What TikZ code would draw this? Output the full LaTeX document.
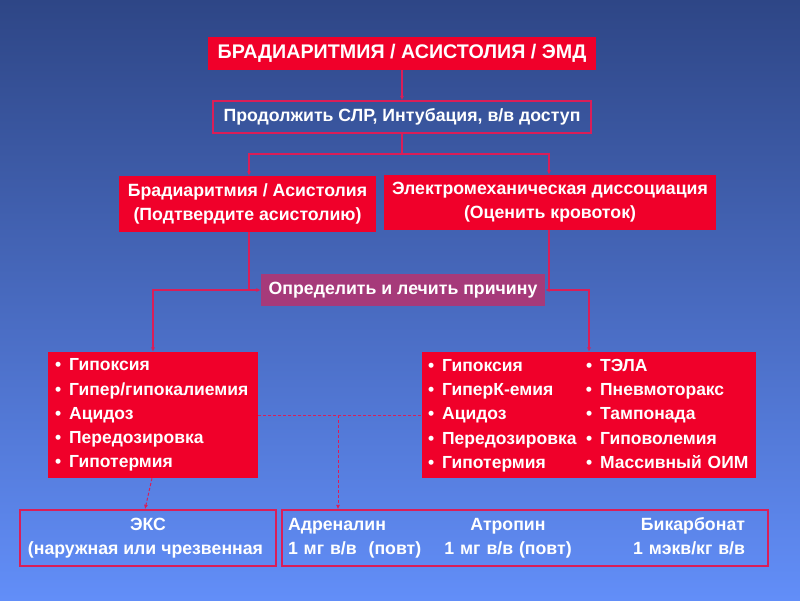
\documentclass[tikz,border=0pt]{standalone}
\usepackage{fontspec}
\setmainfont{Liberation Sans}
\usetikzlibrary{arrows.meta}
\definecolor{boxred}{RGB}{240,0,42}
\definecolor{boxpurple}{RGB}{166,58,122}
\definecolor{linecol}{RGB}{218,30,88}
\definecolor{bgtop}{RGB}{46,70,134}
\definecolor{bgbot}{RGB}{98,142,248}
\newcommand\bl{•\hspace{8pt}}
\tikzset{
  redbox/.style={fill=boxred, text=white, inner sep=0pt, align=center},
  outbox/.style={draw=linecol, line width=1.4pt, text=white, inner sep=0pt, align=center},
  conn/.style={draw=linecol, line width=1.1pt, -{Latex[length=4.5pt,width=4pt]}},
  plain/.style={draw=linecol, line width=1.1pt},
  dconn/.style={draw=linecol, line width=1pt, dash pattern=on 3pt off 2pt},
  bigtxt/.style={font=\bfseries\fontsize{17.7}{24}\selectfont},
  listtxt/.style={font=\bfseries\fontsize{17.5}{24.2}\selectfont}
}
\begin{document}
\begin{tikzpicture}[x=1pt,y=-1pt]
\shade[top color=bgtop, bottom color=bgbot] (0,0) rectangle (800,600);
\useasboundingbox (0,0) rectangle (800,600);

\node[redbox, minimum width=388pt, minimum height=33pt, font=\bfseries\fontsize{19.7}{22}\selectfont] (title) at (402,53.5) {БРАДИАРИТМИЯ / АСИСТОЛИЯ / ЭМД};
\node[outbox, minimum width=378pt, minimum height=32pt, bigtxt] (cpr) at (402,117) {Продолжить СЛР, Интубация, в/в доступ};
\node[redbox, minimum width=257pt, minimum height=56pt, bigtxt] (brady) at (247.5,204) {Брадиаритмия / Асистолия\\(Подтвердите асистолию)};
\node[redbox, minimum width=332pt, minimum height=55pt, bigtxt] (emd) at (550,202.5) {Электромеханическая диссоциация\\(Оценить кровоток)};
\node[fill=boxpurple, text=white, inner sep=0pt, minimum width=284pt, minimum height=32pt, bigtxt] (cause) at (403,290) {Определить и лечить причину};

\node[redbox, minimum width=210pt, minimum height=126pt, text width=196pt, align=left, listtxt] (left) at (153,415)
{\bl Гипоксия\\\bl Гипер/гипокалиемия\\\bl Ацидоз\\\bl Передозировка\\\bl Гипотермия};
\node[redbox, minimum width=334pt, minimum height=126pt, text width=322pt, align=left, listtxt] (right) at (589,415)
{\begin{tabular}{@{}p{158pt}@{}l@{}}
\bl Гипоксия & \bl ТЭЛА\\[0.2pt]
\bl ГиперК-емия & \bl Пневмоторакс\\[0.2pt]
\bl Ацидоз & \bl Тампонада\\[0.2pt]
\bl Передозировка & \bl Гиповолемия\\[0.2pt]
\bl Гипотермия & \bl Массивный ОИМ
\end{tabular}};

\node[outbox, minimum width=256pt, minimum height=56pt, bigtxt] (eks) at (148,538) {ЭКС\\\hspace{-5pt}(наружная или чрезвенная};
\node[outbox, minimum width=486pt, minimum height=56pt, text width=476pt, align=left, bigtxt] (drugs) at (525,538)
{\begin{tabular}{@{\hspace{1pt}}l@{}c@{}r@{}}
\makebox[160pt][l]{Адреналин} & \makebox[120pt][c]{Атропин} & \makebox[177pt][r]{Бикарбонат}\\
\makebox[160pt][l]{1 мг в/в\ \ (повт)} & \makebox[120pt][c]{1 мг в/в (повт)} & \makebox[177pt][r]{1 мэкв/кг в/в}
\end{tabular}};

\draw[conn] (title.south) -- (cpr.north);
\coordinate (split) at (402,154);
\draw[plain] (cpr.south) -- (split);
\draw[conn] (split) -| ([xshift=1.5pt]brady.north);
\draw[conn] (split) -| ([xshift=-1pt]emd.north);
\draw[conn] ([xshift=1.5pt]brady.south) |- (cause.west);
\draw[conn] ([xshift=-1pt]emd.south) |- (cause.east);
\draw[conn] ([xshift=1.5pt]brady.south |- cause.west) -| (left.north);
\draw[conn] ([xshift=-1pt]emd.south |- cause.east) -| (right.north);
\draw[dconn] (left.east) -- (right.west);
\coordinate (jd) at (338,415);
\draw[dconn, -{Latex[length=4.5pt,width=4pt]}] (jd) -- (jd |- drugs.north);
\draw[dconn, -{Latex[length=4.5pt,width=4pt]}] ([xshift=-1pt]left.south) -- ([xshift=-3pt]eks.north);
\end{tikzpicture}
\end{document}
